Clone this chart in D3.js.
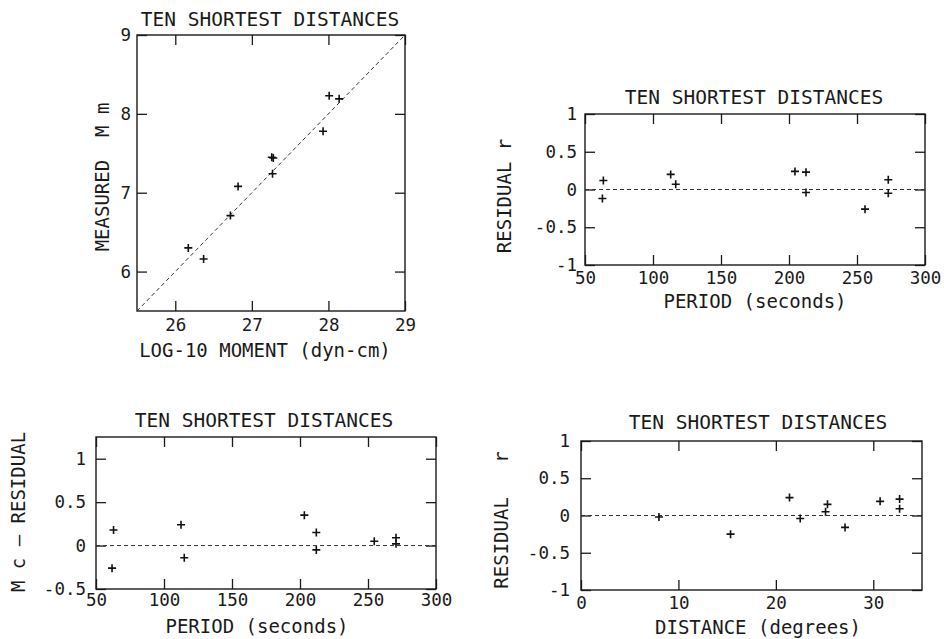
<!DOCTYPE html>
<html>
<head>
<meta charset="utf-8">
<script src="https://cdn.jsdelivr.net/npm/d3@7"></script>
<style>
  body { margin: 0; background: #fff; }
  svg text { font-family: "DejaVu Sans Mono", "Liberation Mono", monospace; fill: #1a1a1a; white-space: pre; }
  .tick line { stroke: #1a1a1a; stroke-width: 1.3; }
</style>
</head>
<body>
<div id="my-chart"></div>
<script>
var width = 944;
var height = 639;

// panel 1 : measured magnitude against log moment
var momentLog = [26.17, 26.37, 26.72, 26.82, 27.26, 27.28, 27.27, 27.93, 28.01, 28.14];
var measuredM = [6.30, 6.16, 6.71, 7.08, 7.45, 7.44, 7.24, 7.78, 8.23, 8.19];
var momentTicks = [26, 27, 28, 29];
var measuredTicks = [6, 7, 8, 9];

// panel 2 : residual r against period
var periodR = [63.5, 62.8, 113, 116.7, 204.4, 212.5, 212.5, 255.9, 273, 273];
var residualR = [0.12, -0.12, 0.20, 0.07, 0.24, 0.23, -0.04, -0.26, 0.13, -0.05];

// panel 3 : Mc residual against period
var periodC = [62.9, 61.8, 112.5, 114.9, 203.2, 212, 212, 254.6, 270.6, 270.6];
var residualC = [0.18, -0.26, 0.24, -0.14, 0.35, 0.15, -0.05, 0.05, 0.09, 0.02];

// panel 4 : residual r against distance
var distanceD = [8.0, 15.35, 21.4, 22.5, 25.1, 25.3, 27.1, 30.7, 32.7, 32.7];
var residualD = [-0.02, -0.25, 0.24, -0.04, 0.05, 0.15, -0.16, 0.19, 0.22, 0.09];

var periodTicks = [50, 100, 150, 200, 250, 300];
var distanceTicks = [0, 10, 20, 30];
var residualTicks = [-1, -0.5, 0, 0.5, 1];
var residualTicksC = [-0.5, 0, 0.5, 1];

var title = "TEN SHORTEST DISTANCES";

var svg = d3.select("div#my-chart").append("svg")
  .attr("width", width)
  .attr("height", height);

function fmt(d) {
  return String(d);
}

function drawPanel(p) {
  var x = d3.scaleLinear().domain(p.xDomain).range([p.left, p.right]);
  var y = d3.scaleLinear().domain(p.yDomain).range([p.bottom, p.top]);
  var g = svg.append("g");

  // inward ticks on all four sides
  g.append("g")
    .attr("transform", "translate(0," + p.bottom + ")")
    .call(d3.axisBottom(x).tickValues(p.xTicks).tickSizeInner(-10).tickSizeOuter(0).tickPadding(p.xPad).tickFormat(fmt))
    .call(function(a) { a.select(".domain").remove(); });
  g.append("g")
    .attr("transform", "translate(0," + p.top + ")")
    .call(d3.axisTop(x).tickValues(p.xTicks).tickSizeInner(-10).tickSizeOuter(0).tickFormat(""))
    .call(function(a) { a.select(".domain").remove(); });
  g.append("g")
    .attr("transform", "translate(" + p.left + ",0)")
    .call(d3.axisLeft(y).tickValues(p.yTicks).tickSizeInner(-10).tickSizeOuter(0).tickPadding(p.yPad).tickFormat(fmt))
    .call(function(a) { a.select(".domain").remove(); });
  g.append("g")
    .attr("transform", "translate(" + p.right + ",0)")
    .call(d3.axisRight(y).tickValues(p.yTicks).tickSizeInner(-10).tickSizeOuter(0).tickFormat(""))
    .call(function(a) { a.select(".domain").remove(); });

  g.selectAll(".tick text")
    .attr("font-size", 17.5)
    .attr("font-family", "DejaVu Sans Mono");

  g.append("rect")
    .attr("x", p.left)
    .attr("y", p.top)
    .attr("width", p.right - p.left)
    .attr("height", p.bottom - p.top)
    .attr("fill", "none")
    .attr("stroke", "#1a1a1a")
    .attr("stroke-width", 1.4);

  // reference line
  g.append("line")
    .attr("x1", x(p.line[0][0])).attr("y1", y(p.line[0][1]))
    .attr("x2", x(p.line[1][0])).attr("y2", y(p.line[1][1]))
    .attr("stroke", "#333")
    .attr("stroke-width", 1)
    .attr("stroke-dasharray", "4,3");

  var pts = p.xs.map(function(v, i) { return [v, p.ys[i]]; });
  g.selectAll("path.pt")
    .data(pts)
    .enter()
    .append("path")
    .attr("class", "pt")
    .attr("d", function(d) {
      var cx = x(d[0]), cy = y(d[1]);
      return "M" + (cx - 4) + "," + cy + "H" + (cx + 4) + "M" + cx + "," + (cy - 4) + "V" + (cy + 4);
    })
    .attr("stroke", "#111")
    .attr("stroke-width", 1.6)
    .attr("fill", "none");

  g.append("text")
    .attr("text-anchor", "middle")
    .attr("x", p.titleX)
    .attr("y", p.titleY)
    .attr("font-size", 19.5)
    .text(title);

  g.append("text")
    .attr("text-anchor", "middle")
    .attr("x", p.xLabelX)
    .attr("y", p.xLabelY)
    .attr("font-size", 19)
    .text(p.xLabel);

  g.append("text")
    .attr("text-anchor", "middle")
    .attr("transform", "translate(" + p.yLabelX + "," + p.yLabelY + ") rotate(-90)")
    .attr("font-size", 19)
    .text(p.yLabel);
}

drawPanel({
  left: 137, right: 405, top: 35, bottom: 311,
  xDomain: [25.5, 29], yDomain: [5.5, 9],
  xTicks: momentTicks, yTicks: measuredTicks, xPad: 8, yPad: 6,
  xs: momentLog, ys: measuredM,
  line: [[25.5, 5.5], [29, 9]],
  titleX: 270, titleY: 26,
  xLabel: "LOG-10 MOMENT (dyn-cm)", xLabelX: 265, xLabelY: 357,
  yLabel: "MEASURED  M m", yLabelX: 109, yLabelY: 177
});

drawPanel({
  left: 585, right: 925, top: 114, bottom: 265,
  xDomain: [50, 300], yDomain: [-1, 1],
  xTicks: periodTicks, yTicks: residualTicks, xPad: 7, yPad: 8,
  xs: periodR, ys: residualR,
  line: [[50, 0], [300, 0]],
  titleX: 754, titleY: 104,
  xLabel: "PERIOD (seconds)", xLabelX: 755, xLabelY: 308,
  yLabel: "RESIDUAL r", yLabelX: 511, yLabelY: 196
});

drawPanel({
  left: 96, right: 436, top: 437, bottom: 589,
  xDomain: [50, 300], yDomain: [-0.5, 1.25],
  xTicks: periodTicks, yTicks: residualTicksC, xPad: 5, yPad: 10,
  xs: periodC, ys: residualC,
  line: [[50, 0], [300, 0]],
  titleX: 264, titleY: 427,
  xLabel: "PERIOD (seconds)", xLabelX: 257, xLabelY: 633,
  yLabel: "M c \u2014 RESIDUAL", yLabelX: 25, yLabelY: 512
});

drawPanel({
  left: 581, right: 922, top: 441, bottom: 590,
  xDomain: [0, 35], yDomain: [-1, 1],
  xTicks: distanceTicks, yTicks: residualTicks, xPad: 7, yPad: 11,
  xs: distanceD, ys: residualD,
  line: [[0, 0], [35, 0]],
  titleX: 758, titleY: 429,
  xLabel: "DISTANCE (degrees)", xLabelX: 758, xLabelY: 634,
  yLabel: "RESIDUAL   r", yLabelX: 508, yLabelY: 520
});
</script>
</body>
</html>
